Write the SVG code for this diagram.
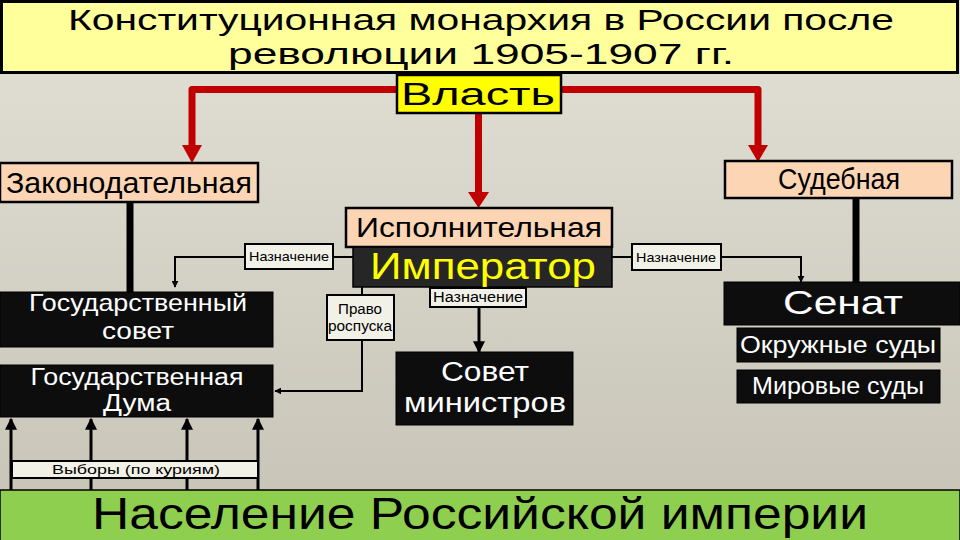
<svg xmlns="http://www.w3.org/2000/svg" width="960" height="540" viewBox="0 0 960 540">
<defs>
<linearGradient id="bg" x1="0" y1="0" x2="0" y2="1">
<stop offset="0" stop-color="#e3e1d6"/>
<stop offset="1" stop-color="#c6c2b6"/>
</linearGradient>
<marker id="ah" viewBox="0 0 10 10" refX="9" refY="5" markerWidth="4" markerHeight="4" orient="auto" markerUnits="strokeWidth">
<path d="M0,0 L10,5 L0,10 z" fill="#000"/>
</marker>
<marker id="ahs" viewBox="0 0 10 10" refX="9" refY="5" markerWidth="7" markerHeight="7" orient="auto" markerUnits="userSpaceOnUse">
<path d="M0,0 L10,5 L0,10 z" fill="#000"/>
</marker>
</defs>
<style>
text{font-family:"Liberation Sans","DejaVu Sans",sans-serif;}
.peach{fill:#fcd5b5;stroke:#000;stroke-width:2.5;}
.dark{fill:#0d0d0d;stroke:#000;stroke-width:1;}
.lbl{fill:#f2f1e8;stroke:#000;stroke-width:2;}
.bt{fill:#000;}
.wt{fill:#fff;}
.red{fill:none;stroke:#c00000;stroke-width:7;stroke-linejoin:round;}
.redh{fill:#c00000;}
.thin{fill:none;stroke:#000;stroke-width:2;}
.thick{fill:none;stroke:#000;stroke-width:7;}
.vote{fill:none;stroke:#000;stroke-width:3;}
</style>
<rect x="0" y="0" width="960" height="540" fill="url(#bg)"/>

<g id="connectors">
<path class="red" d="M396,89.5 H192 V146"/>
<path class="redh" d="M182,145 L202,145 L192,163 z"/>
<path class="red" d="M561,89.5 H758 V146"/>
<path class="redh" d="M748,145 L768,145 L758,162 z"/>
<path class="red" d="M478.5,113 V193"/>
<path class="redh" d="M468,192 L489,192 L478.5,208 z"/>
<path class="thick" d="M130,202 V292"/>
<path class="thick" d="M856,198 V282"/>
<path class="thin" d="M353,257 H333 M245,257 H175 V287" marker-end="url(#ahs)"/>
<path class="thin" d="M612,257 H632 M721,257 H801 V282" marker-end="url(#ahs)"/>
<path class="thin" d="M362,287 V295"/>
<path class="thin" d="M362,340 V391 H275" marker-end="url(#ahs)"/>
<path class="thick" d="M479,307 V352" style="stroke-width:3" marker-end="url(#ah)"/>
<path class="vote" d="M11,490 V419" marker-end="url(#ah)"/>
<path class="vote" d="M91,490 V419" marker-end="url(#ah)"/>
<path class="vote" d="M187,490 V419" marker-end="url(#ah)"/>
<path class="vote" d="M258,490 V419" marker-end="url(#ah)"/>
</g>

<g id="title">
<rect x="1.5" y="1.5" width="956" height="71" fill="#ffff9c" stroke="#000" stroke-width="3"/>
<text x="481" y="30" font-size="30" text-anchor="middle" textLength="826" lengthAdjust="spacingAndGlyphs" class="bt">Конституционная монархия в России после</text>
<text x="481" y="64" font-size="30" text-anchor="middle" textLength="506" lengthAdjust="spacingAndGlyphs" class="bt">революции 1905-1907 гг.</text>
</g>

<g id="vlast">
<rect x="397" y="75" width="164" height="38" fill="#ffff00" stroke="#000" stroke-width="2.5"/>
<text x="478" y="105" font-size="32" text-anchor="middle" textLength="154" lengthAdjust="spacingAndGlyphs" class="bt">Власть</text>
</g>

<g id="zakon">
<rect class="peach" x="0" y="163" width="258" height="39"/>
<text x="129" y="193" font-size="29" text-anchor="middle" textLength="246" lengthAdjust="spacingAndGlyphs" class="bt">Законодательная</text>
</g>

<g id="sud">
<rect class="peach" x="725" y="161" width="227" height="37"/>
<text x="839" y="189" font-size="29" text-anchor="middle" textLength="122" lengthAdjust="spacingAndGlyphs" class="bt">Судебная</text>
</g>

<g id="ispoln">
<rect class="peach" x="346" y="208" width="266" height="39"/>
<text x="479" y="237" font-size="28" text-anchor="middle" textLength="246" lengthAdjust="spacingAndGlyphs" class="bt">Исполнительная</text>
</g>

<g id="imperator">
<rect x="353" y="247" width="259" height="40" fill="#262626" stroke="#000" stroke-width="1.5"/>
<text x="483" y="279" font-size="37" text-anchor="middle" textLength="226" lengthAdjust="spacingAndGlyphs" fill="#ffff00">Император</text>
</g>

<g id="naznach-left">
<rect class="lbl" x="245" y="244" width="88" height="25"/>
<text x="289" y="261" font-size="13" text-anchor="middle" textLength="80" lengthAdjust="spacingAndGlyphs" class="bt">Назначение</text>
</g>

<g id="naznach-right">
<rect class="lbl" x="632" y="244" width="89" height="26"/>
<text x="676" y="262" font-size="13" text-anchor="middle" textLength="80" lengthAdjust="spacingAndGlyphs" class="bt">Назначение</text>
</g>

<g id="naznach-mid">
<rect class="lbl" x="430" y="288" width="96" height="19"/>
<text x="478" y="302" font-size="14" text-anchor="middle" textLength="90" lengthAdjust="spacingAndGlyphs" class="bt">Назначение</text>
</g>

<g id="pravo">
<rect class="lbl" x="327" y="295" width="67" height="45"/>
<text x="360" y="314" font-size="14" text-anchor="middle" textLength="44" lengthAdjust="spacingAndGlyphs" class="bt">Право</text>
<text x="360" y="331" font-size="14" text-anchor="middle" textLength="64" lengthAdjust="spacingAndGlyphs" class="bt">роспуска</text>
</g>

<g id="gossovet">
<rect class="dark" x="0" y="292" width="273" height="55"/>
<text x="138" y="311" font-size="24" text-anchor="middle" textLength="218" lengthAdjust="spacingAndGlyphs" class="wt">Государственный</text>
<text x="138" y="339" font-size="24" text-anchor="middle" textLength="72" lengthAdjust="spacingAndGlyphs" class="wt">совет</text>
</g>

<g id="duma">
<rect class="dark" x="0" y="365" width="273" height="52"/>
<text x="137" y="385" font-size="23" text-anchor="middle" textLength="213" lengthAdjust="spacingAndGlyphs" class="wt">Государственная</text>
<text x="137" y="411" font-size="23" text-anchor="middle" textLength="68" lengthAdjust="spacingAndGlyphs" class="wt">Дума</text>
</g>

<g id="sovmin">
<rect class="dark" x="396" y="352" width="177" height="73"/>
<text x="485" y="381" font-size="27" text-anchor="middle" textLength="88" lengthAdjust="spacingAndGlyphs" class="wt">Совет</text>
<text x="485" y="412" font-size="27" text-anchor="middle" textLength="162" lengthAdjust="spacingAndGlyphs" class="wt">министров</text>
</g>

<g id="senat">
<rect class="dark" x="724" y="282" width="236" height="43"/>
<text x="843" y="314" font-size="34" text-anchor="middle" textLength="120" lengthAdjust="spacingAndGlyphs" class="wt">Сенат</text>
</g>

<g id="okruzh">
<rect class="dark" x="737" y="328" width="203" height="34"/>
<text x="838" y="353" font-size="23" text-anchor="middle" textLength="196" lengthAdjust="spacingAndGlyphs" class="wt">Окружные суды</text>
</g>

<g id="mirovye">
<rect class="dark" x="737" y="370" width="203" height="33"/>
<text x="838" y="394" font-size="23" text-anchor="middle" textLength="172" lengthAdjust="spacingAndGlyphs" class="wt">Мировые суды</text>
</g>

<g id="vybory">
<rect class="lbl" x="12" y="461" width="246" height="17"/>
<text x="136" y="474" font-size="13" text-anchor="middle" textLength="168" lengthAdjust="spacingAndGlyphs" class="bt">Выборы (по куриям)</text>
</g>

<g id="naselenie">
<rect x="0" y="490" width="960" height="52" fill="#8fcf4f" stroke="#000" stroke-width="1.5"/>
<text x="480" y="529" font-size="44" text-anchor="middle" textLength="776" lengthAdjust="spacingAndGlyphs" class="bt">Население Российской империи</text>
</g>
</svg>
